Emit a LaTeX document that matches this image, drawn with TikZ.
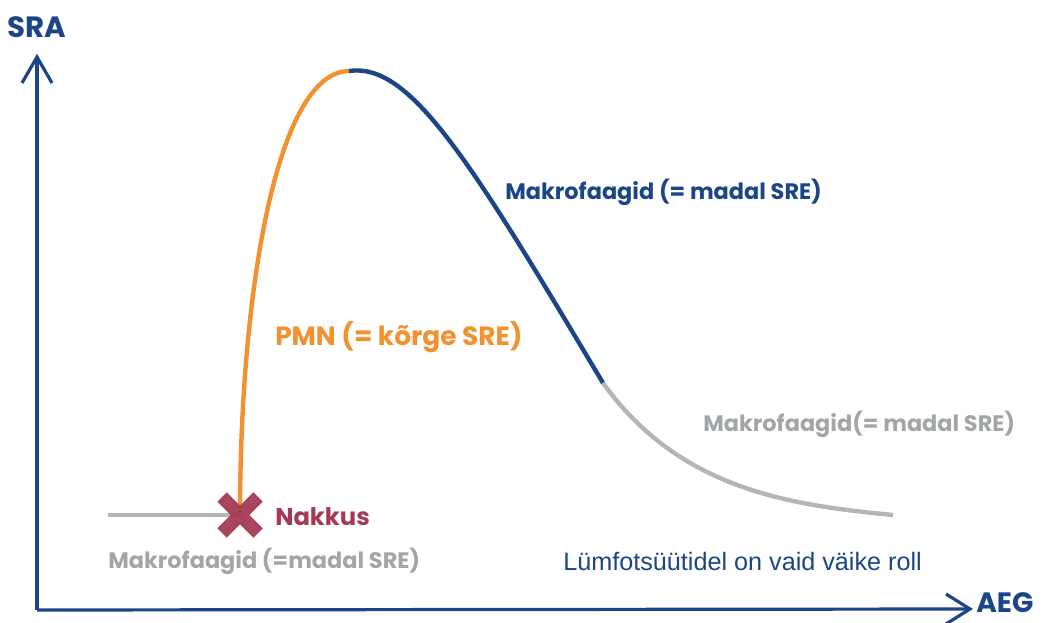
\documentclass[tikz,border=0pt]{standalone}
\usepackage{fontspec}
\setmainfont{Poppins}
\newfontfamily\lsans{Liberation Sans}
\definecolor{navy}{HTML}{1C4587}
\definecolor{orng}{HTML}{F39130}
\definecolor{lgray}{HTML}{B5B5B5}
\definecolor{tgray}{HTML}{A2A6A8}
\definecolor{wine}{HTML}{A53A52}
\begin{document}
\begin{tikzpicture}[x=0.75pt,y=-0.75pt,
  axis/.style={navy,line width=2.4pt},
  curve/.style={line width=3.3pt},
  lbl/.style={font=\fontsize{16.8}{18}\selectfont\bfseries,inner sep=0pt,anchor=west}]
\useasboundingbox (0,0) rectangle (1042,623);
% axes
\coordinate (o) at (37,610);
\coordinate (ytip) at (37,57);
\coordinate (xtip) at (970,609);
\draw[axis] (o) -- (ytip);
\draw[axis] (o) -- (xtip);
\draw[axis,line join=miter] (22,83) -- (ytip) -- (52,83);
\draw[axis,line join=miter] (946,594) -- (xtip) -- (946,624);
\node[lbl,navy,font=\fontsize{22}{22}\selectfont\bfseries] (sra) at (7,27) {SRA};
\node[lbl,navy,font=\fontsize{21}{21}\selectfont\bfseries] (aeg) at (976,603) {AEG};
% curve
\coordinate (a) at (108,515);
\coordinate (b) at (240,515);
\coordinate (p) at (349,71);
\coordinate (q) at (603,383);
\coordinate (e) at (893,515);
\draw[curve,lgray] (a) -- (b);
\draw[curve,orng] (b) .. controls (240,300) and (275,72) .. (p);
\draw[curve,navy] (p) .. controls (410,62) and (470,160) .. (q);
\draw[curve,lgray] (q) .. controls (680,490) and (790,505) .. (e);
% cross
\node (x) at (b) {};
\draw[wine,line width=10pt,opacity=0.95] (222,497) -- (258,533) (258,497) -- (222,533);
\node[lbl,wine,font=\fontsize{18.2}{20}\selectfont\bfseries] (nak) at (275,517) {Nakkus};
% labels
\node[lbl,navy] (m1) at (505,192) {Makrofaagid (= madal SRE)};
\node[lbl,orng,font=\fontsize{19.8}{20}\selectfont\bfseries] (pmn) at (275,337) {PMN (= kõrge SRE)};
\node[lbl,tgray] (m2) at (703,424) {Makrofaagid(= madal SRE)};
\node[lbl,tgray] (m3) at (108,561) {Makrofaagid (=madal SRE)};
\node[inner sep=0pt,anchor=west,navy,font=\lsans\fontsize{18.9}{20}\selectfont] (lym) at (563,561) {Lümfotsüütidel on vaid väike roll};
\end{tikzpicture}
\end{document}
